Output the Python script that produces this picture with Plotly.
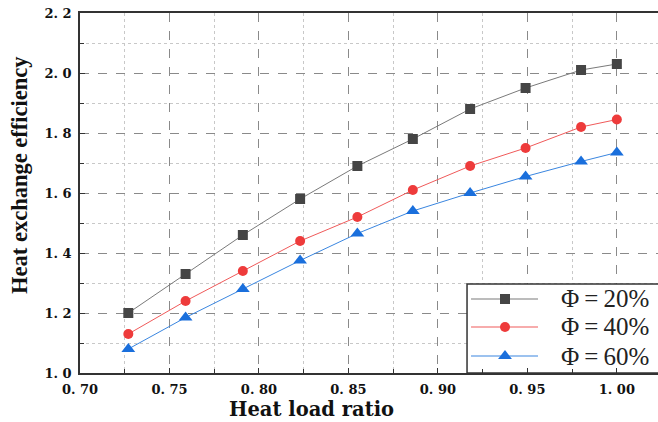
import plotly.graph_objects as go

x_vals = [0.727, 0.759, 0.791, 0.823, 0.855, 0.886, 0.918, 0.949, 0.980, 1.000]
y_20 = [1.20, 1.33, 1.46, 1.58, 1.69, 1.78, 1.88, 1.95, 2.01, 2.03]
y_40 = [1.13, 1.24, 1.34, 1.44, 1.52, 1.61, 1.69, 1.75, 1.82, 1.845]
y_60 = [1.08, 1.185, 1.28, 1.375, 1.465, 1.54, 1.60, 1.655, 1.705, 1.735]
names = ["Φ\u2009=\u200920%", "Φ\u2009=\u200940%", "Φ\u2009=\u200960%"]
x_ticks = [0.70, 0.75, 0.80, 0.85, 0.90, 0.95, 1.00]
x_ticktext = ["0. 70", "0. 75", "0. 80", "0. 85", "0. 90", "0. 95", "1. 00"]
y_ticks = [1.0, 1.2, 1.4, 1.6, 1.8, 2.0, 2.2]
y_ticktext = ["1. 0", "1. 2", "1. 4", "1. 6", "1. 8", "2. 0", "2. 2"]
x_title = "Heat load ratio"
y_title = "Heat exchange efficiency"

styles = [
    dict(line_color="#7a7a7a", marker_color="#454545", symbol="square", size=10),
    dict(line_color="#f05a5a", marker_color="#ee3b3b", symbol="circle", size=10),
    dict(line_color="#3a86e0", marker_color="#1a6fdc", symbol="triangle-up", size=12),
]

# legend layout (fractions of the plot area)
leg_x0, leg_x1, leg_top = 0.6696, 1.05, 0.2472
leg_line = (0.6765, 0.7924)
leg_mark_x = 0.7353
leg_text_x = 0.8287
leg_rows = [0.2056, 0.1278, 0.0472]

fig = go.Figure()
for ys, nm, st in zip([y_20, y_40, y_60], names, styles):
    fig.add_trace(go.Scatter(
        x=x_vals, y=ys, name=nm, mode="lines+markers",
        line=dict(color=st["line_color"], width=1),
        marker=dict(color=st["marker_color"], symbol=st["symbol"], size=st["size"]),
        showlegend=False,
    ))

# legend box (white, framed) on an overlay unit axis
fig.add_trace(go.Scatter(
    x=[leg_x0, leg_x1, leg_x1, leg_x0, leg_x0],
    y=[0, 0, leg_top, leg_top, 0],
    xaxis="x2", yaxis="y2", mode="lines", fill="toself",
    fillcolor="white", line=dict(color="#333", width=1.5),
    showlegend=False, hoverinfo="skip",
))
for nm, st, ry in zip(names, styles, leg_rows):
    fig.add_trace(go.Scatter(
        x=list(leg_line), y=[ry, ry], xaxis="x2", yaxis="y2",
        mode="lines", showlegend=False, hoverinfo="skip",
        line=dict(color=st["line_color"], width=1.2),
    ))
    fig.add_trace(go.Scatter(
        x=[leg_mark_x], y=[ry], xaxis="x2", yaxis="y2",
        mode="markers", showlegend=False, hoverinfo="skip",
        marker=dict(color=st["marker_color"], symbol=st["symbol"],
                    size=st["size"], opacity=1),
    ))
    fig.add_annotation(
        x=leg_text_x, y=ry, xref="x2", yref="y2", text=nm, showarrow=False,
        xanchor="left", yanchor="middle",
        font=dict(family="Liberation Serif", size=25, color="#222"),
    )

# axis titles
fig.add_annotation(x=0.401, y=-0.135, xref="paper", yref="paper",
                   text="<b>%s</b>" % x_title, showarrow=False, borderpad=0,
                   xanchor="center", yanchor="bottom",
                   font=dict(family="DejaVu Serif", size=19.5, color="#111"))
fig.add_annotation(x=-0.104, y=0.55, xref="paper", yref="paper",
                   text="<b>%s</b>" % y_title, showarrow=False, textangle=-90,
                   xanchor="center", yanchor="middle",
                   font=dict(family="Liberation Serif", size=22.5, color="#111"))

tick_font = dict(family="DejaVu Serif", size=13, color="#111")
axis_common = dict(
    tickfont=tick_font,
    ticks="inside", ticklen=5, tickcolor="#333",
    showline=True, linecolor="#333", linewidth=1.5,
    showgrid=True, gridcolor="#8a8a8a", griddash="dash", gridwidth=1,
    zeroline=False,
)
fig.update_layout(
    width=658, height=422,
    margin=dict(l=80, r=0, t=13, b=49),
    paper_bgcolor="white", plot_bgcolor="white",
    showlegend=False,
    xaxis=dict(
        range=[0.70, 1.023],
        tickvals=x_ticks, ticktext=["<b>%s</b>" % t for t in x_ticktext],
        mirror=True, ticklabelstandoff=4,
        minor=dict(tickvals=[0.725, 0.775, 0.825, 0.875, 0.925, 0.975, 1.025],
                   ticks="inside", ticklen=4, tickcolor="#333",
                   showgrid=True, gridcolor="#c8c8c8", griddash="dot", gridwidth=1),
        **axis_common,
    ),
    yaxis=dict(
        range=[1.0, 2.2],
        tickvals=y_ticks, ticktext=["<b>%s</b>" % t for t in y_ticktext],
        mirror=False, ticklabelstandoff=4,
        minor=dict(tickvals=[1.1, 1.3, 1.5, 1.7, 1.9, 2.1],
                   ticks="inside", ticklen=4, tickcolor="#333",
                   showgrid=True, gridcolor="#c8c8c8", griddash="dot", gridwidth=1),
        **axis_common,
    ),
    xaxis2=dict(overlaying="x", range=[0, 1], visible=False, fixedrange=True),
    yaxis2=dict(overlaying="y", range=[0, 1], visible=False, fixedrange=True),
)

fig.write_html("out.html")
